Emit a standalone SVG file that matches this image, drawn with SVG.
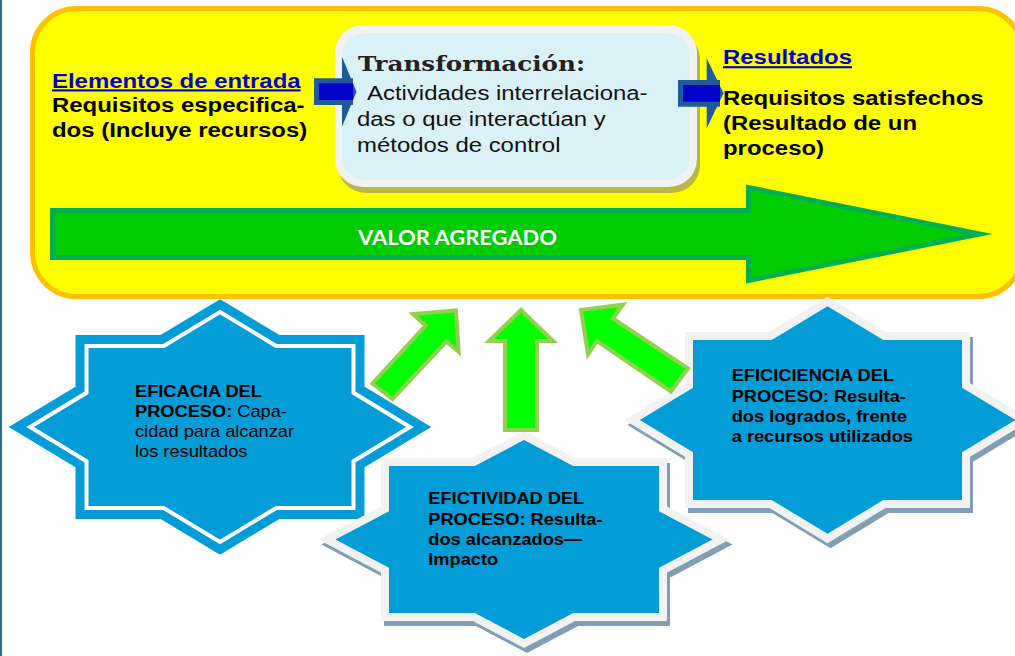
<svg xmlns="http://www.w3.org/2000/svg" width="1015" height="656" viewBox="0 0 1015 656">
<style>
.sans{font-family:"Liberation Sans",Arial,sans-serif;}
.top{font-size:21px;font-weight:bold;fill:#000;}
.link{fill:#0000CC;text-decoration:underline;}
.body{font-size:21px;fill:#111;}
.st{font-size:16px;fill:#000;}
.b{font-weight:bold;}
.starfill{fill:#029CD6;}
.gray{stroke:#F2F2F2;stroke-width:8;stroke-linejoin:miter;stroke-miterlimit:10;}
.shadow{fill:#809FB4;stroke:#809FB4;stroke-width:8;stroke-miterlimit:10;}
.garrow{fill:#00FF00;stroke:#92D050;stroke-width:4;stroke-miterlimit:10;}
.bhead{fill:#1F5A9A;}
.bshaft{fill:#0000CC;stroke:#1F5A9A;stroke-width:5;}
</style>
<rect x="0" y="0" width="1015" height="656" fill="#FFFFFF"/>
<rect x="0" y="0" width="2" height="656" fill="#2B6E8F"/>

<g id="proceso">
  <rect x="32.5" y="8.5" width="990" height="288" rx="44" ry="44" fill="#FFFF00" stroke="#FFC000" stroke-width="5"/>
</g>

<g id="entrada">
  <text class="sans top" transform="matrix(1.14 0 0 1 52 87.5)">
    <tspan x="0" y="0" class="link">Elementos de entrada</tspan>
    <tspan x="0" y="25">Requisitos especifica-</tspan>
    <tspan x="0" y="50">dos (Incluye recursos)</tspan>
  </text>
</g>

<g id="transformacion">
  <rect x="338" y="31" width="362" height="162" rx="28" ry="28" fill="#B7B848"/>
  <rect x="335" y="25" width="362" height="162" rx="28" ry="28" fill="#F2F2F2"/>
  <rect x="342" y="33" width="348" height="147" rx="22" ry="22" fill="#DAF2F7"/>
  <text x="358" y="70.5" font-family="'DejaVu Serif',serif" font-weight="bold" font-size="19.5" fill="#222" textLength="227" lengthAdjust="spacingAndGlyphs">Transformación:</text>
  <text class="sans body" transform="matrix(1.14 0 0 1 357 100)">
    <tspan x="8.8" y="0">Actividades interrelaciona-</tspan>
    <tspan x="0" y="26">das o que interactúan y</tspan>
    <tspan x="0" y="52">métodos de control</tspan>
  </text>
</g>

<g id="resultados">
  <text class="sans top" transform="matrix(1.14 0 0 1 723 64.3)">
    <tspan x="0" y="0" class="link">Resultados</tspan>
    <tspan x="0" y="40.7">Requisitos satisfechos</tspan>
    <tspan x="0" y="65.7">(Resultado de un</tspan>
    <tspan x="0" y="90.7">proceso)</tspan>
  </text>
</g>

<g id="valor-agregado">
  <polygon points="52.5,210.5 748.5,210.5 748.5,187.5 980,234 748.5,280.5 748.5,257.5 52.5,257.5" fill="#00CC00" stroke="#00B050" stroke-width="5" stroke-miterlimit="10"/>
  <text x="358" y="245" font-family="Lato,'Open Sans',sans-serif" font-weight="bold" font-size="21" fill="#FFFFFF" textLength="199" lengthAdjust="spacingAndGlyphs">VALOR AGREGADO</text>
</g>

<g id="eficacia">
  <polygon points="220,312 276.2,346 353.5,346 353.5,392.8 410,427 353.5,461.2 353.5,508 276.2,508 220,542 163.8,508 86.5,508 86.5,461.2 30,427 86.5,392.8 86.5,346 163.8,346" fill="#029CD6" stroke="#029CD6" stroke-width="22" stroke-miterlimit="10"/>
  <polygon points="220,312 276.2,346 353.5,346 353.5,392.8 410,427 353.5,461.2 353.5,508 276.2,508 220,542 163.8,508 86.5,508 86.5,461.2 30,427 86.5,392.8 86.5,346 163.8,346" fill="#029CD6" stroke="#FFFFFF" stroke-width="4" stroke-miterlimit="10"/>
  <text class="sans st" transform="matrix(1.14 0 0 1 135 397)">
    <tspan x="0" y="0" class="b">EFICACIA DEL</tspan>
    <tspan x="0" y="20"><tspan class="b">PROCESO:</tspan> Capa-</tspan>
    <tspan x="0" y="40">cidad para alcanzar</tspan>
    <tspan x="0" y="60.5">los resultados</tspan>
  </text>
</g>

<g id="eficiencia">
  <polygon class="shadow" transform="translate(3,5)" points="827.5,301.5 884.4,336 966,336 966,385.4 1023,420 966,454.6 966,504 884.4,504 827.5,538.5 770.6,504 689,504 689,454.6 632,420 689,385.4 689,336 770.6,336"/>
  <polygon class="starfill gray" points="827.5,301.5 884.4,336 966,336 966,385.4 1023,420 966,454.6 966,504 884.4,504 827.5,538.5 770.6,504 689,504 689,454.6 632,420 689,385.4 689,336 770.6,336"/>
  <text class="sans st b" transform="matrix(1.14 0 0 1 731.7 381)">
    <tspan x="0" y="0">EFICICIENCIA DEL</tspan>
    <tspan x="0" y="20.7">PROCESO: Resulta-</tspan>
    <tspan x="0" y="40.7">dos logrados, frente</tspan>
    <tspan x="0" y="60.7">a recursos utilizados</tspan>
  </text>
</g>

<g id="efectividad">
  <polygon class="shadow" transform="translate(3,5)" points="524,435.5 574.2,462 663,462 663,508.9 721,539.5 663,570.1 663,617 574.2,617 524,643.5 473.8,617 385,617 385,570.1 327,539.5 385,508.9 385,462 473.8,462"/>
  <polygon class="starfill gray" points="524,435.5 574.2,462 663,462 663,508.9 721,539.5 663,570.1 663,617 574.2,617 524,643.5 473.8,617 385,617 385,570.1 327,539.5 385,508.9 385,462 473.8,462"/>
  <text class="sans st b" transform="matrix(1.14 0 0 1 428.3 504.3)">
    <tspan x="0" y="0">EFICTIVIDAD DEL</tspan>
    <tspan x="0" y="20.7">PROCESO: Resulta-</tspan>
    <tspan x="0" y="40.7">dos alcanzados—</tspan>
    <tspan x="0" y="60.7">Impacto</tspan>
  </text>
</g>

<g id="conectores">
  <polygon class="bhead" points="342,56.7 356.5,91.7 342,126.7"/>
  <path class="bshaft" d="M353,80.8 H316.5 V102.5 H353"/>
  <polygon class="bhead" points="706.7,58.3 723.5,93.3 706.7,128.3"/>
  <path class="bshaft" d="M720,82.5 H680.5 V104.2 H720"/>
  <polygon class="garrow" points="456,310.5 458.7,352 446.5,341.5 392.5,399 372.5,383.5 425.5,325.5 413,314"/>
  <polygon class="garrow" points="521,310 553,341 537,341 537,430 505,430 505,341 489,341"/>
  <polygon class="garrow" points="581,310 623,304.5 613,318.5 688,368.5 671,391.5 597,341 588,354.5"/>
</g>
</svg>
